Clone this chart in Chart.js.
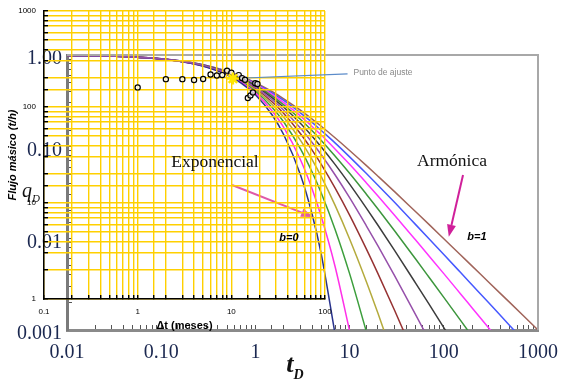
<!DOCTYPE html>
<html>
<head>
<meta charset="utf-8">
<script src="https://cdn.jsdelivr.net/npm/chart.js@4.4.0/dist/chart.umd.min.js"></script>
<style>
  body { margin: 0; background: #fff; }
  #wrap { position: relative; width: 567px; height: 381px; overflow: hidden; }
  #wrap canvas { position: absolute; left: 0; top: 0; }
  .lbl { position: absolute; transform: translate(-50%, -50%); line-height: 1; white-space: nowrap; }
  .serif { font-family: 'Liberation Serif', 'DejaVu Serif', serif; color: #111; }
  .ital { font-family: 'Liberation Sans', Arial, sans-serif; font-style: italic; font-weight: bold; color: #000; }
</style>
</head>
<body>
<div id="wrap">
  <canvas id="tipo" width="567" height="381"></canvas>
  <canvas id="datos" width="567" height="381"></canvas>
  <div class="lbl serif" style="left:215px;top:162px;font-size:17.5px">Exponencial</div>
  <div class="lbl serif" style="left:452px;top:161px;font-size:17.5px">Armónica</div>
  <div class="lbl ital" style="left:289px;top:237px;font-size:11px">b=0</div>
  <div class="lbl ital" style="left:477px;top:236px;font-size:11px">b=1</div>
  <div class="lbl" style="left:383px;top:72px;font:8.5px 'Liberation Sans', Arial, sans-serif;color:#888">Punto de ajuste</div>
  <div class="lbl" style="left:31px;top:191px;font:italic 20px 'Liberation Serif', serif;color:#111">q<sub style="font-size:11px">D</sub></div>
  <div class="lbl" style="left:295px;top:366px;font:italic bold 26px 'Liberation Serif', serif;color:#111">t<sub style="font-size:14px">D</sub></div>
</div>
<script>
// curvas tipo de Fetkovich: tiempo adimensional y gasto adimensional por valor de b
const tD = [0.01, 0.05, 0.1, 0.2, 0.3, 0.5, 0.7, 1, 1.5, 2, 3, 4, 5, 7, 10, 15, 20, 30, 50, 70, 100, 150, 200, 300, 500, 700, 1000];
const bValues = [0, 0.1, 0.2, 0.3, 0.4, 0.5, 0.6, 0.7, 0.8, 0.9, 1];
const qD_b00 = [0.990, 0.951, 0.905, 0.819, 0.741, 0.607, 0.497, 0.368, 0.223, 0.135, 0.0498, 0.0183, 0.00674, 0.000912];
const qD_b01 = [0.990, 0.951, 0.905, 0.820, 0.744, 0.614, 0.508, 0.386, 0.247, 0.162, 0.0725, 0.0346, 0.0173, 0.00496, 0.000977];
const qD_b02 = [0.990, 0.951, 0.906, 0.822, 0.747, 0.621, 0.519, 0.402, 0.269, 0.186, 0.0954, 0.0529, 0.0313, 0.0126, 0.00412, 0.000977];
const qD_b03 = [0.990, 0.952, 0.906, 0.823, 0.750, 0.628, 0.530, 0.417, 0.290, 0.209, 0.118, 0.0722, 0.0471, 0.0230, 0.00984, 0.00341, 0.00152, 0.000464];
const qD_b04 = [0.990, 0.952, 0.907, 0.825, 0.753, 0.634, 0.539, 0.431, 0.309, 0.230, 0.139, 0.0917, 0.0642, 0.0355, 0.0179, 0.00771, 0.00412, 0.00164, 0.000494];
const qD_b05 = [0.990, 0.952, 0.907, 0.826, 0.756, 0.640, 0.549, 0.444, 0.327, 0.250, 0.160, 0.111, 0.0816, 0.0494, 0.0278, 0.0138, 0.00826, 0.00391, 0.00148, 0.000772];
const qD_b06 = [0.990, 0.952, 0.907, 0.828, 0.759, 0.646, 0.557, 0.457, 0.343, 0.269, 0.180, 0.130, 0.0992, 0.0641, 0.0390, 0.0215, 0.0139, 0.00739, 0.00327, 0.00190, 0.00106, 0.000543];
const qD_b07 = [0.990, 0.952, 0.908, 0.829, 0.762, 0.651, 0.566, 0.469, 0.359, 0.286, 0.199, 0.149, 0.117, 0.0792, 0.0513, 0.0305, 0.0209, 0.0121, 0.00598, 0.00374, 0.00227, 0.00128, 0.000851];
const qD_b08 = [0.990, 0.952, 0.908, 0.831, 0.764, 0.657, 0.574, 0.480, 0.373, 0.303, 0.217, 0.166, 0.134, 0.0945, 0.0642, 0.0405, 0.0290, 0.0179, 0.00963, 0.00638, 0.00412, 0.00249, 0.00174, 0.00105, 0.000557];
const qD_b09 = [0.990, 0.952, 0.909, 0.832, 0.767, 0.662, 0.581, 0.490, 0.387, 0.319, 0.234, 0.184, 0.150, 0.110, 0.0774, 0.0512, 0.0380, 0.0247, 0.0142, 0.00984, 0.00666, 0.00426, 0.00310, 0.00198, 0.00112, 0.000774];
const qD_b10 = [0.990, 0.952, 0.909, 0.833, 0.769, 0.667, 0.588, 0.500, 0.400, 0.333, 0.250, 0.200, 0.167, 0.125, 0.0909, 0.0625, 0.0476, 0.0323, 0.0196, 0.0141, 0.0099, 0.00662, 0.00498, 0.00332, 0.00200, 0.00143, 0.000999];
const curveColors = ['#28328c', '#ff30e8', '#3c9e3c', '#b4aa3c', '#963232', '#9650aa', '#3c3c3c', '#3c963c', '#ff32ff', '#4658ff', '#a0645a'];

// datos medidos: flujo masico vs tiempo
const deltaT = [1, 2, 3, 4, 5, 6, 7, 8, 9, 10, 12, 13, 14, 15, 16, 17, 18, 19];
const flujo = [160, 195, 195, 191, 196, 218, 213, 215, 239, 228, 215, 200, 192, 124, 132, 142, 177, 174];
const ajusteT = [10.4];
const ajusteQ = [198];

// etiquetas de ejes
const tdTicks = [0.01, 0.1, 1, 10, 100, 1000];
const tdLabels = ['0.01', '0.10', '1', '10', '100', '1000'];
const qdTicks = [1, 0.1, 0.01, 0.001];
const qdLabels = ['1.00', '0.10', '0.01', '0.001'];
const dtTicks = [0.1, 1, 10, 100];
const dtLabels = ['0.1', '1', '10', '100'];
const flTicks = [1, 10, 100, 1000];
const flLabels = ['1', '10', '100', '1000'];

function labeler(ticks, labels) {
  return function (v) {
    const i = ticks.findIndex(t => Math.abs(t - v) / t < 1e-6);
    return i < 0 ? '' : labels[i];
  };
}

const curves = [qD_b00, qD_b01, qD_b02, qD_b03, qD_b04, qD_b05, qD_b06, qD_b07, qD_b08, qD_b09, qD_b10];

const serif = "'Liberation Serif', 'DejaVu Serif', serif";
const sans = "'Liberation Sans', Arial, sans-serif";

// marco superior/derecho y flechas de las curvas tipo
const marco = {
  id: 'marco',
  afterDatasetsDraw(chart) {
    const { ctx, chartArea: a, scales } = chart;
    ctx.save();
    ctx.strokeStyle = '#a8a8a8';
    ctx.lineWidth = 2;
    ctx.beginPath();
    ctx.moveTo(a.left, a.top);
    ctx.lineTo(a.right, a.top);
    ctx.lineTo(a.right, a.bottom);
    ctx.stroke();

    const flechas = [
      { from: [0.565, 0.0382], to: [4.09, 0.0171], color: '#e05aa8' },
      { from: [160, 0.0491], to: [113, 0.0104], color: '#d0209a' }
    ];
    flechas.forEach(f => {
      const x1 = scales.x.getPixelForValue(f.from[0]), y1 = scales.y.getPixelForValue(f.from[1]);
      const x2 = scales.x.getPixelForValue(f.to[0]), y2 = scales.y.getPixelForValue(f.to[1]);
      const ang = Math.atan2(y2 - y1, x2 - x1);
      const hl = 12;
      ctx.strokeStyle = f.color;
      ctx.fillStyle = f.color;
      ctx.lineWidth = 2;
      ctx.beginPath();
      ctx.moveTo(x1, y1);
      ctx.lineTo(x2 - hl * Math.cos(ang), y2 - hl * Math.sin(ang));
      ctx.stroke();
      ctx.beginPath();
      ctx.moveTo(x2, y2);
      ctx.lineTo(x2 - hl * Math.cos(ang) + 4.5 * Math.sin(ang), y2 - hl * Math.sin(ang) - 4.5 * Math.cos(ang));
      ctx.lineTo(x2 - hl * Math.cos(ang) - 4.5 * Math.sin(ang), y2 - hl * Math.sin(ang) + 4.5 * Math.cos(ang));
      ctx.closePath();
      ctx.fill();
    });
    ctx.restore();
  }
};

new Chart(document.getElementById('tipo'), {
  type: 'scatter',
  data: {
    datasets: curves.map((q, k) => ({
      label: 'b=' + bValues[k],
      data: q.map((v, i) => ({ x: tD[i], y: v })),
      showLine: true,
      borderColor: curveColors[k],
      borderWidth: 1.5,
      pointRadius: 0,
      cubicInterpolationMode: 'monotone',
      order: bValues[k] === 0.5 ? -1 : 0
    }))
  },
  options: {
    responsive: false,
    animation: false,
    layout: { padding: { left: 0, right: 29, top: 55, bottom: 0 } },
    plugins: { legend: { display: false }, tooltip: { enabled: false } },
    scales: {
      x: {
        type: 'logarithmic', min: 0.01, max: 1000,
        afterFit: s => { s.height = 51; s.paddingLeft = 0; s.paddingRight = 0; },
        border: { color: '#8a8a8a', width: 3 },
        grid: { drawOnChartArea: false, tickLength: -5, tickColor: '#555' },
        ticks: { autoSkip: false, maxRotation: 0, padding: 16, color: '#1b2850',
          font: { family: serif, size: 20 }, callback: labeler(tdTicks, tdLabels) }
      },
      y: {
        type: 'logarithmic', min: 0.001, max: 1,
        afterFit: s => { s.width = 67; s.paddingTop = 0; s.paddingBottom = 0; },
        border: { color: '#7a7a7a', width: 3 },
        grid: { drawOnChartArea: false, tickLength: -5, tickColor: '#555' },
        ticks: { autoSkip: false, padding: 10, labelOffset: 4, color: '#1b2850',
          font: { family: serif, size: 20 }, callback: labeler(qdTicks, qdLabels) }
      }
    }
  },
  plugins: [marco]
});

// linea de referencia al punto de ajuste
const guia = {
  id: 'guia',
  beforeDatasetsDraw(chart) {
    const { ctx, scales } = chart;
    ctx.save();
    ctx.strokeStyle = '#5b8bc9';
    ctx.lineWidth = 1.2;
    ctx.beginPath();
    ctx.moveTo(scales.x.getPixelForValue(ajusteT[0]), scales.y.getPixelForValue(ajusteQ[0]));
    ctx.lineTo(scales.x.getPixelForValue(174), scales.y.getPixelForValue(221));
    ctx.stroke();
    ctx.restore();
  }
};

new Chart(document.getElementById('datos'), {
  type: 'scatter',
  data: {
    datasets: [
      {
        label: 'Punto de ajuste',
        data: ajusteT.map((t, i) => ({ x: t, y: ajusteQ[i] })),
        pointStyle: 'star', pointRadius: 6, borderColor: '#ffe600', borderWidth: 2.5
      },
      {
        label: 'Flujo másico',
        data: deltaT.map((t, i) => ({ x: t, y: flujo[i] })),
        pointRadius: 2.6, borderColor: '#000', borderWidth: 1.2, backgroundColor: 'rgba(255,255,255,0.7)'
      }
    ]
  },
  options: {
    responsive: false,
    animation: false,
    layout: { padding: { left: 0, right: 242, top: 11, bottom: 0 } },
    plugins: { legend: { display: false }, tooltip: { enabled: false } },
    scales: {
      x: {
        type: 'logarithmic', min: 0.1, max: 100,
        afterFit: s => { s.height = 82; s.paddingLeft = 0; s.paddingRight = 0; },
        border: { color: '#000', width: 1.5 },
        grid: { color: '#ffd000', lineWidth: 1.4, tickLength: -4, tickColor: '#000' },
        ticks: { autoSkip: false, maxRotation: 0, padding: 12, color: '#000',
          font: { family: sans, size: 8 }, callback: labeler(dtTicks, dtLabels) },
        title: { display: true, text: 'Δt (meses)', color: '#000',
          font: { family: sans, size: 11, weight: 'bold' }, padding: { top: 0, bottom: 48 } }
      },
      y: {
        type: 'logarithmic', min: 1, max: 1000,
        afterFit: s => { s.width = 44; s.paddingTop = 0; s.paddingBottom = 0; },
        border: { color: '#000', width: 1.5 },
        grid: { color: '#ffd000', lineWidth: 1.4, tickLength: -4, tickColor: '#000' },
        ticks: { autoSkip: false, padding: 12, color: '#000',
          font: { family: sans, size: 8 }, callback: labeler(flTicks, flLabels) },
        title: { display: true, text: 'Flujo másico (t/h)', color: '#000',
          font: { family: sans, size: 11, weight: 'bold', style: 'italic' }, padding: { top: 6, bottom: 0 } }
      }
    }
  },
  plugins: [guia]
});
</script>
</body>
</html>
